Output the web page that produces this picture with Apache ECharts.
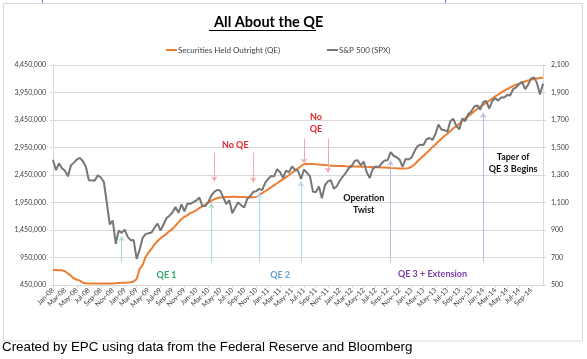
<!DOCTYPE html>
<html><head><meta charset="utf-8">
<script src="https://cdn.jsdelivr.net/npm/echarts@6/dist/echarts.min.js"></script>
<style>html,body{margin:0;padding:0;background:#fff}#c{width:587px;height:359px}</style>
</head><body><div id="c"></div>
<script>
// ---------- DATA ----------
const monthNames = ['Jan','Feb','Mar','Apr','May','Jun','Jul','Aug','Sep','Oct','Nov','Dec'];
// semi-monthly dates Jan-08 .. Oct-14 (1st and mid month), plus a late-Oct-14 end point
const categories = [];
for (let y = 2008; y <= 2014; y++) {
  for (let m = 0; m < 12; m++) {
    if (y === 2014 && m > 9) break;
    const lab = monthNames[m] + '-' + String(y).slice(2);
    categories.push(lab);
    categories.push(lab + ' mid');
  }
}
categories.push('Oct-14 late');
const lastTickLabel = 'Sep-14';

// Securities Held Outright (QE), $ millions
const qe2008 = [724000,724000,720000,716000,700000,660000,620000,570000,545000,530000,490000,480000,478000,477000,477000,478000,478000,479000,478000,477000,479000,484000,487000,490000];
const qe2009 = [492000,495000,500000,512000,560000,740000,815000,960000,1040000,1110000,1190000,1250000,1300000,1340000,1380000,1430000,1470000,1530000,1590000,1650000,1690000,1720000,1760000,1780000];
const qe2010 = [1810000,1850000,1880000,1910000,1950000,1980000,2010000,2030000,2040000,2045000,2050000,2052000,2055000,2055000,2050000,2048000,2048000,2045000,2045000,2045000,2050000,2085000,2120000,2155000];
const qe2011 = [2190000,2225000,2265000,2300000,2340000,2375000,2410000,2450000,2490000,2530000,2570000,2610000,2645000,2650000,2652000,2648000,2645000,2640000,2638000,2630000,2625000,2620000,2618000,2615000];
const qe2012 = [2612000,2615000,2610000,2606000,2608000,2604000,2603000,2600000,2600000,2598000,2597000,2595000,2593000,2590000,2588000,2585000,2582000,2578000,2575000,2572000,2570000,2568000,2570000,2575000];
const qe2013 = [2600000,2640000,2700000,2750000,2800000,2850000,2900000,2960000,3000000,3060000,3110000,3160000,3200000,3250000,3300000,3340000,3380000,3430000,3480000,3520000,3560000,3610000,3650000,3690000];
const qe2014 = [3730000,3760000,3800000,3840000,3880000,3910000,3950000,3980000,4010000,4040000,4070000,4090000,4110000,4130000,4150000,4170000,4180000,4195000,4205000,4215000,4220000];

// S&P 500 (SPX)
const sp2008 = [1411,1335,1385,1349,1331,1290,1370,1390,1413,1425,1400,1360,1262,1260,1260,1298,1282,1251,1100,940,968,800,896,879];
const sp2009 = [903,850,826,827,690,756,843,870,877,882,919,946,896,940,987,1004,1029,1068,1025,1087,1036,1093,1091,1102];
const sp2010 = [1115,1136,1074,1075,1104,1150,1178,1192,1186,1136,1089,1117,1022,1064,1101,1079,1064,1125,1146,1176,1183,1199,1190,1243];
const sp2011 = [1271,1293,1290,1343,1320,1280,1332,1319,1363,1338,1331,1271,1339,1316,1292,1179,1177,1216,1131,1224,1253,1263,1200,1219];
const sp2012 = [1258,1289,1316,1350,1366,1404,1408,1370,1398,1320,1278,1343,1362,1357,1385,1406,1407,1466,1440,1429,1412,1360,1416,1413];
const sp2013 = [1426,1472,1510,1520,1518,1560,1569,1555,1597,1667,1631,1626,1615,1692,1709,1656,1633,1710,1691,1744,1762,1798,1806,1775];
const sp2014 = [1831,1838,1782,1838,1859,1841,1865,1864,1881,1878,1924,1937,1961,1978,1925,1955,2003,2010,1968,1886,1964];

const qeValues = [].concat(qe2008, qe2009, qe2010, qe2011, qe2012, qe2013, qe2014);
const spValues = [].concat(sp2008, sp2009, sp2010, sp2011, sp2012, sp2013, sp2014);

// Annotation arrows (category index, from/to value on S&P axis)
const arrows = [
  { i: 23,  from: 666,  to: 855,  color: '#a8dcc4' },
  { i: 53,  from: 666,  to: 1094, color: '#a8dcc4' },
  { i: 54,  from: 1463, to: 1253, color: '#f2a7ad' },
  { i: 67,  from: 1463, to: 1245, color: '#f2a7ad' },
  { i: 69,  from: 666,  to: 1173, color: '#b3d3ea' },
  { i: 83,  from: 666,  to: 1253, color: '#b3d3ea' },
  { i: 84,  from: 1564, to: 1383, color: '#f2a7ad' },
  { i: 92,  from: 1564, to: 1318, color: '#f2a7ad' },
  { i: 113, from: 666,  to: 1405, color: '#c6b6de' },
  { i: 144, from: 666,  to: 1752, color: '#c6b6de' }
];
const notes = [
  { i: 38,  v: 572,  text: 'QE 1', color: '#2fa866' },
  { i: 76,  v: 572,  text: 'QE 2', color: '#6a9fd0' },
  { i: 127, v: 580,  text: 'QE 3 + Extension', color: '#7b3fa8' },
  { i: 61,  v: 1514, text: 'No QE', color: '#e0262b' },
  { i: 88,  v: 1680, text: 'No\nQE', color: '#e0262b' },
  { i: 104, v: 1090, text: 'Operation\nTwist', color: '#111111' },
  { i: 154, v: 1383, text: 'Taper of\nQE 3 Begins', color: '#111111' }
];

// ---------- CHART ----------
const FONT = 'Lato, "Open Sans", sans-serif';
const chart = echarts.init(document.getElementById('c'), null, { renderer: 'canvas' });
const fmtComma = v => String(Math.round(v)).replace(/\B(?=(\d{3})+(?!\d))/g, ',');
const lastLabelIdx = categories.indexOf(lastTickLabel);
const everyTwoMonths = (idx) => idx % 4 === 0 && idx <= lastLabelIdx;

chart.setOption({
  animation: false,
  backgroundColor: '#ffffff',
  title: {
    text: 'All About the QE',
    left: 209, top: 10,
    textStyle: { fontFamily: FONT, fontSize: 14.5, fontWeight: 'bold', color: '#000' }
  },
  legend: [
    { data: ['Securities Held Outright (QE)'], left: 161, top: 41, icon: 'rect', itemWidth: 11, itemHeight: 2, itemGap: 2,
      textStyle: { fontFamily: FONT, fontSize: 8, color: '#404040', padding: [0,0,0,-4] } },
    { data: ['S&P 500 (SPX)'], left: 322, top: 41, icon: 'rect', itemWidth: 11, itemHeight: 2, itemGap: 2,
      textStyle: { fontFamily: FONT, fontSize: 8, color: '#404040', padding: [0,0,0,-4] } }
  ],
  grid: { left: 53, right: 44, top: 65, bottom: 74 },
  xAxis: {
    type: 'category', data: categories, boundaryGap: false,
    axisLine: { lineStyle: { color: '#d9d9d9' } },
    axisTick: { show: true, interval: everyTwoMonths, length: 3, lineStyle: { color: '#d9d9d9' } },
    axisLabel: { interval: everyTwoMonths, rotate: 45, fontSize: 7, fontFamily: FONT, color: '#404040', margin: 4,
      formatter: v => v.split(' ')[0] },
    splitLine: { show: false }
  },
  yAxis: [
    { type: 'value', position: 'left', min: 450000, max: 4450000, interval: 500000,
      axisLine: { show: true, lineStyle: { color: '#d9d9d9' } },
      axisTick: { show: true, length: 3, lineStyle: { color: '#d9d9d9' } },
      axisLabel: { fontSize: 7, fontFamily: FONT, color: '#404040', margin: 7, formatter: fmtComma },
      splitLine: { show: true, lineStyle: { color: '#d9d9d9', width: 1 } } },
    { type: 'value', position: 'right', min: 500, max: 2100, interval: 200,
      axisLine: { show: true, lineStyle: { color: '#d9d9d9' } },
      axisTick: { show: true, length: 3, lineStyle: { color: '#d9d9d9' } },
      axisLabel: { fontSize: 7, fontFamily: FONT, color: '#404040', margin: 8, formatter: fmtComma },
      splitLine: { show: false } }
  ],
  series: [
    { name: 'Securities Held Outright (QE)', type: 'line', yAxisIndex: 0, data: qeValues,
      showSymbol: false, symbol: 'none', color: '#ED7D31', lineStyle: { color: '#ED7D31', width: 2 }, z: 2 },
    { name: 'S&P 500 (SPX)', type: 'line', yAxisIndex: 1, data: spValues,
      showSymbol: false, symbol: 'none', color: '#767676', lineStyle: { color: '#767676', width: 2 }, z: 3,
      markLine: {
        silent: true, symbol: ['none', 'arrow'], symbolSize: 5, label: { show: false }, animation: false,
        data: arrows.map(a => [
          { coord: [categories[a.i], a.from], lineStyle: { color: a.color, width: 1, type: 'solid' }, itemStyle: { color: a.color } },
          { coord: [categories[a.i], a.to], lineStyle: { color: a.color, width: 1, type: 'solid' }, itemStyle: { color: a.color } }
        ])
      },
      markPoint: {
        silent: true, symbol: 'circle', symbolSize: 1, itemStyle: { color: 'transparent' }, animation: false,
        data: notes.map(n => ({
          coord: [categories[n.i], n.v],
          label: { show: true, position: 'inside', formatter: n.text, color: n.color, fontFamily: FONT,
                   fontSize: 9, fontWeight: 'bold', lineHeight: 12, align: 'center' }
        }))
      }
    }
  ],
  graphic: [
    { type: 'rect', silent: true, shape: { x: 3.5, y: 3.5, width: 579, height: 337.5 },
      style: { fill: 'none', stroke: '#d9d9d9', lineWidth: 1 }, z: -1 },
    { type: 'line', silent: true, shape: { x1: 209, y1: 30.5, x2: 316, y2: 30.5 }, style: { stroke: '#000', lineWidth: 1.2 } },
    { type: 'line', silent: true, shape: { x1: 42.5, y1: 0, x2: 42.5, y2: 3 }, style: { stroke: '#3d7fe0', lineWidth: 1 } },
    { type: 'line', silent: true, shape: { x1: 445.5, y1: 0, x2: 445.5, y2: 3 }, style: { stroke: '#3d7fe0', lineWidth: 1 } },
    { type: 'text', silent: true, left: 2, top: 341,
      style: { text: 'Created by EPC using data from the Federal Reserve and Bloomberg',
               font: '13.33px "Liberation Sans", Arial, sans-serif', fill: '#000' } }
  ]
});
</script></body></html>
